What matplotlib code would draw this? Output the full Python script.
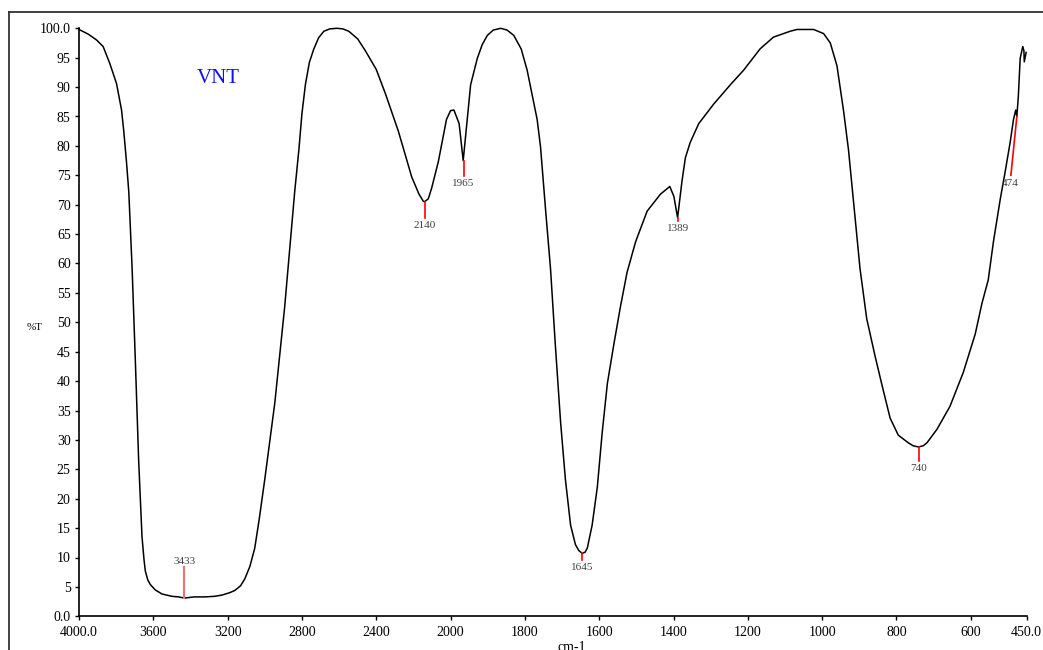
import numpy as np
import matplotlib
matplotlib.use("Agg")
import matplotlib.pyplot as plt
from matplotlib.lines import Line2D

plt.rcParams['font.family'] = ['Liberation Serif', 'DejaVu Serif']

# spectrum (wavenumber cm-1, %T)
wn = [4000, 3950, 3905, 3870, 3834, 3798, 3771, 3759, 3745, 3732, 3714, 3696,
      3679, 3661, 3650, 3643, 3630, 3616, 3590, 3554, 3500, 3464, 3433, 3380,
      3321, 3270, 3232, 3190, 3161, 3130, 3107, 3080, 3054, 3030, 3000,
      2946, 2893, 2839, 2816, 2800, 2781, 2760, 2736, 2710, 2682, 2650, 2611,
      2580, 2548, 2500, 2459, 2400, 2352,
      2281, 2209, 2170, 2147, 2140, 2120, 2102, 2066, 2022, 2000, 1991, 1977,
      1966, 1955, 1946, 1928, 1915, 1901, 1885, 1865, 1848, 1830, 1810, 1794,
      1767, 1758, 1744, 1731, 1718, 1704, 1691,
      1677, 1664, 1655, 1646, 1638, 1632, 1619, 1605, 1592, 1578, 1561, 1543,
      1525, 1502, 1471, 1435, 1410, 1399, 1389, 1377, 1368, 1355, 1332, 1292,
      1247, 1211, 1167, 1131, 1100, 1086, 1068, 1023, 996, 978, 960, 942, 929,
      915, 898, 880, 857, 835, 817, 795, 768, 755, 741, 728, 718, 691, 656, 620,
      588, 570, 553, 539, 521, 508, 494, 485, 479, 476, 472, 467, 460, 457,
      456, 451]
trans = [99.8, 99.0, 98.0, 96.9, 94.0, 90.6, 86.1, 82.5, 77.5, 72.2, 59.1, 42.8,
         26.6, 13.6, 9.6, 7.7, 6.2, 5.4, 4.5, 3.8, 3.4, 3.3, 3.1, 3.3,
         3.3, 3.4, 3.6, 4.0, 4.4, 5.2, 6.4, 8.5, 11.6, 16.5, 23.3,
         36.3, 52.6, 72.2, 79.5, 85.5, 90.5, 94.2, 96.5, 98.4, 99.5, 99.9, 100.0,
         99.9, 99.5, 98.2, 96.2, 93.0, 89.0,
         82.5, 74.7, 71.8, 70.6, 70.5, 71.0, 72.8, 77.3, 84.5, 86.0, 86.1, 83.8,
         77.5, 84.5, 90.4, 94.9, 97.2, 98.8, 99.7, 100.0, 99.7, 98.8, 96.5, 92.9,
         84.5, 79.9, 68.9, 59.1, 46.1, 33.1, 23.3,
         15.5, 12.2, 11.2, 10.7, 10.9, 11.6, 15.5, 22.0, 31.2, 39.6, 46.1, 52.6,
         58.5, 63.7, 68.9, 71.8, 73.1, 71.4, 67.8, 74.1, 78.0, 80.6, 83.8, 87.1,
         90.4, 92.9, 96.5, 98.5, 99.2, 99.5, 99.8, 99.8, 99.1, 97.5, 93.6, 85.8, 79.3,
         70.2, 59.1, 50.6, 44.1, 38.3, 33.7, 30.8, 29.5, 29.0, 28.8, 29.0, 29.5, 31.8, 35.7, 41.5,
         48.0, 53.2, 57.2, 63.7, 70.8, 75.4, 80.6, 84.5, 86.1, 85.0, 88.4, 94.9, 96.9, 96.2,
         94.3, 95.9]

peak_wn = [3433, 2140, 1965, 1645, 1389, 740, 474]
peak_t = [3.1, 70.5, 77.4, 10.7, 67.8, 28.8, 85.0]

xticks = [4000, 3600, 3200, 2800, 2400, 2000, 1800, 1600, 1400, 1200, 1000, 800, 600, 450]
xticklabels = ['4000.0', '3600', '3200', '2800', '2400', '2000', '1800', '1600',
               '1400', '1200', '1000', '800', '600', '450.0']
yticks = list(range(0, 101, 5))
yticklabels = ['0.0'] + [str(v) for v in yticks[1:-1]] + ['100.0']


# x axis is stretched 2x below 2000 cm-1
def fwd(x):
    x = np.asarray(x, dtype=float)
    return np.where(x >= 2000, x, 2 * x - 2000)


def inv(u):
    u = np.asarray(u, dtype=float)
    return np.where(u >= 2000, u, (u + 2000) / 2)


W, H = 1043, 650
fig = plt.figure(figsize=(W / 100, H / 100), dpi=100)
ax = fig.add_axes([79 / W, (H - 616.3) / H, (1026.5 - 79) / W, (616.3 - 28.3) / H])
ax.set_xscale('function', functions=(fwd, inv))

ax.plot(wn, trans, color='black', lw=1.1, clip_on=False)

ax.set_xlim(4000, 450)
ax.set_ylim(0, 100)
ax.set_xticks(xticks)
ax.set_xticklabels(xticklabels)
ax.set_yticks(yticks)
ax.set_yticklabels(yticklabels)
ax.minorticks_off()
ax.tick_params(direction='out', length=3, width=1, pad=3, labelsize=10, colors='black')
ax.tick_params(axis='x', pad=4)
for s in ['top', 'right']:
    ax.spines[s].set_visible(False)
for s in ['left', 'bottom']:
    ax.spines[s].set_linewidth(1.2)

# peak markers
lab_col = '#404040'
for p, t in zip(peak_wn, peak_t):
    if p == 3433:
        ax.plot([p, p], [t, 8.4], color='#f07070', lw=1.5)
        ax.text(p, 8.6, str(p), ha='center', va='bottom', fontsize=8, color=lab_col)
    elif p == 474:
        ax.plot([476, 492], [t, 75], color='red', lw=1.2, clip_on=False)
        ax.text(494, 74.3, str(p), ha='center', va='top', fontsize=8, color=lab_col)
    else:
        ln = {2140: 2.8, 1965: 2.5, 1645: 1.2, 1389: 0.6, 740: 2.4}[p]
        ax.plot([p, p], [t, t - ln], color='red', lw=1.2)
        ax.text(p, t - ln - 0.5, str(p), ha='center', va='top', fontsize=8, color=lab_col)

ax.text(3252, 91.5, 'VNT', color='#1010ee', fontsize=15, ha='center', va='center')

fig.text(35 / W, 1 - 328 / H, '%T', ha='center', va='center', fontsize=8)
fig.text(572 / W, 1 - 641 / H, 'cm-1', ha='center', va='top', fontsize=10)

# outer frame (left and top edges visible)
fig.add_artist(Line2D([9 / W, 9 / W], [0, 1 - 12 / H], transform=fig.transFigure,
                      color='#333333', lw=1.3))
fig.add_artist(Line2D([9 / W, 1], [1 - 12 / H, 1 - 12 / H], transform=fig.transFigure,
                      color='#333333', lw=1.3))

fig.savefig('out.png', dpi=100)
